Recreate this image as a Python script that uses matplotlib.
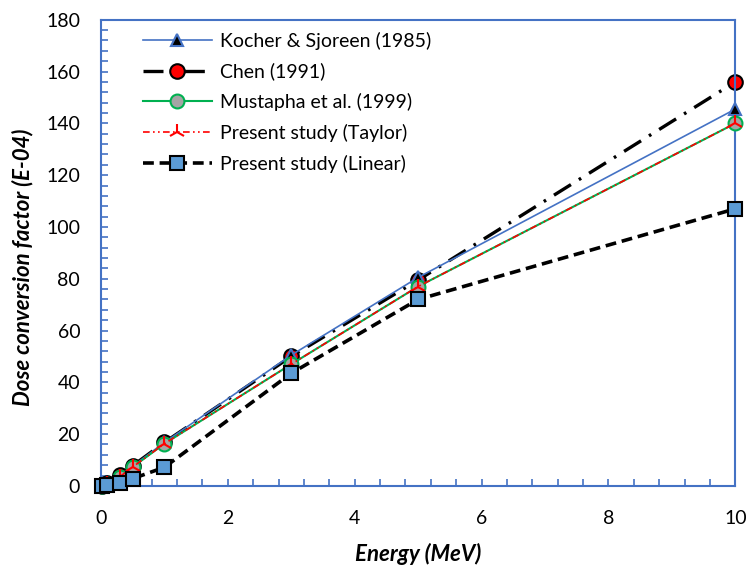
import matplotlib
matplotlib.use("Agg")
import matplotlib.pyplot as plt
from matplotlib.ticker import MultipleLocator

plt.rcParams['font.family'] = ['Lato', 'DejaVu Sans']

# energies (MeV)
energy = [0.02, 0.1, 0.3, 0.5, 1, 3, 5, 10]

kocher = [0.1, 1.0, 4.0, 7.6, 16.8, 50.5, 80.5, 145.5]
chen = [0.1, 1.0, 4.2, 7.8, 16.8, 50.0, 79.5, 156.0]
mustapha = [0.1, 0.9, 3.6, 7.3, 16.3, 47.0, 77.0, 140.0]
taylor = [0.1, 0.9, 3.6, 7.3, 16.3, 47.0, 77.0, 140.0]
linear = [0.05, 0.5, 1.3, 2.8, 7.2, 43.5, 72.0, 107.0]

blue = '#4472C4'

fig = plt.figure(figsize=(7.48, 5.65), dpi=100)
ax = fig.add_axes([0.135, 0.14, 0.848, 0.825])

ax.plot(energy, kocher, color=blue, lw=1.2, marker='^', ms=9,
        mfc='black', mec=blue, mew=1.5, label='Kocher & Sjoreen (1985)', zorder=3, clip_on=False)
ax.plot(energy, chen, color='black', lw=2.4, ls=(0, (6, 2.8, 0.8, 2.8)), marker='o', ms=10.5,
        mfc='red', mec='black', mew=1.5, label='Chen (1991)', zorder=2, clip_on=False)
ax.plot(energy, mustapha, color='#00B050', lw=1.5, marker='o', ms=10,
        mfc='#A5A5A5', mec='#00B050', mew=1.5, label='Mustapha et al. (1999)', zorder=3, clip_on=False)
ax.plot(energy, taylor, color='red', lw=1.2, ls=(0, (4, 2, 1, 2, 1, 2)), marker='2', ms=12,
        mec='red', mew=1.5, label='Present study (Taylor)', zorder=4, clip_on=False)
ax.plot(energy, linear, color='black', lw=2.6, ls=(0, (3, 1.6)), marker='s', ms=10.5,
        mfc='#5B9BD5', mec='black', mew=1.5, label='Present study (Linear)', zorder=5, clip_on=False)

ax.set_xlim(0, 10)
ax.set_ylim(0, 180)
ax.xaxis.set_major_locator(MultipleLocator(2))
ax.xaxis.set_minor_locator(MultipleLocator(0.4))
ax.yaxis.set_major_locator(MultipleLocator(20))
ax.yaxis.set_minor_locator(MultipleLocator(4))
ax.tick_params(which='both', direction='in', color=blue, labelsize=14, width=1.2, length=5)
ax.tick_params(axis='x', pad=17)
ax.tick_params(axis='y', pad=15)
for s in ax.spines.values():
    s.set_color(blue)
    s.set_linewidth(1.5)

ax.set_xlabel('Energy (MeV)', fontsize=16, fontweight='bold', style='italic', labelpad=12)
ax.set_ylabel('Dose conversion factor (E-04)', fontsize=16, fontweight='bold', style='italic')
ax.yaxis.set_label_coords(-0.107, 0.47)

ax.legend(loc='upper left', bbox_to_anchor=(0.066, 0.974), frameon=False, fontsize=14,
          handlelength=3.55, labelspacing=0.65, handletextpad=0.4,
          borderaxespad=0, borderpad=0)

fig.savefig('out.png', dpi=100)
